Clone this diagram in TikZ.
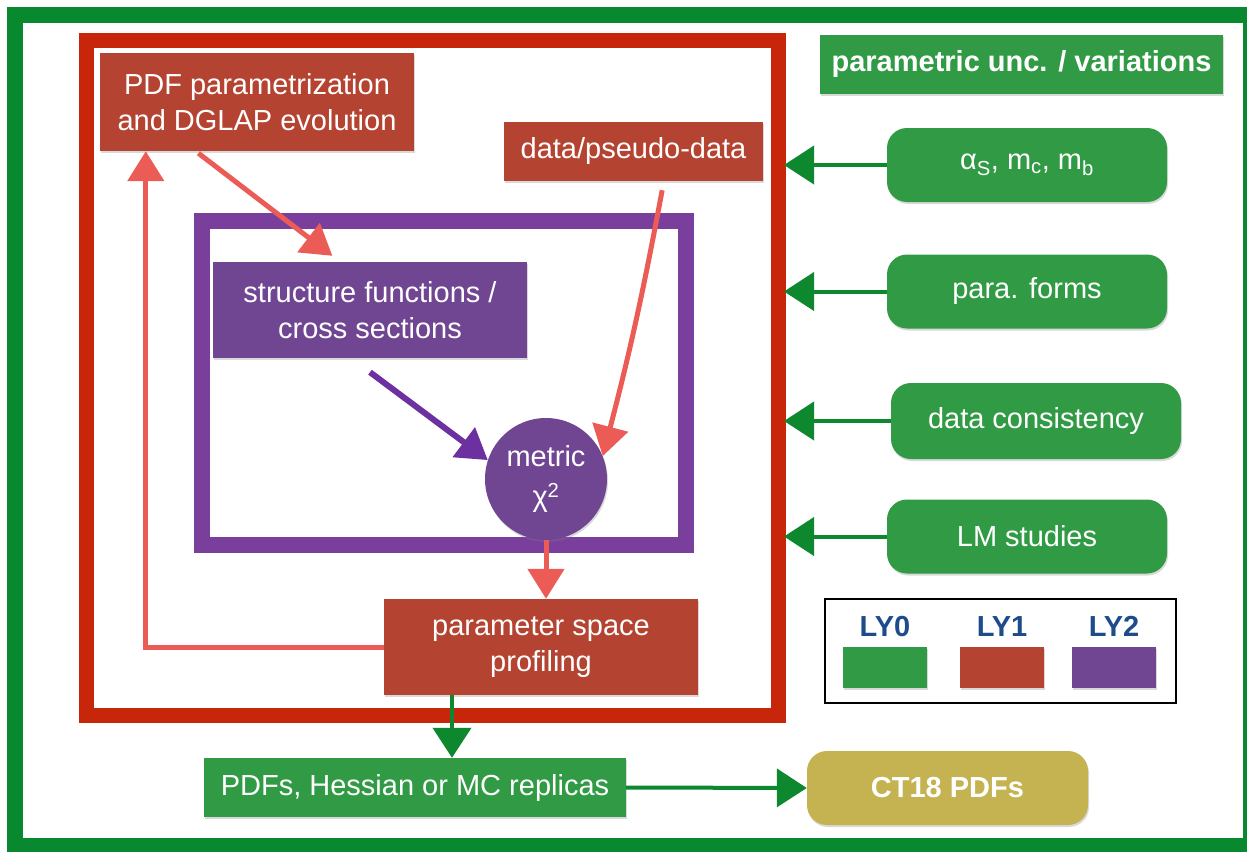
\documentclass[tikz,border=0pt]{standalone}
\usepackage{fontspec}
\setmainfont{Liberation Sans}
\usetikzlibrary{positioning,arrows.meta,shadows,calc}

\definecolor{frameGreen}{RGB}{8,137,48}
\definecolor{frameRed}{RGB}{200,38,10}
\definecolor{framePurple}{RGB}{122,62,156}
\definecolor{layZero}{RGB}{48,154,68}
\definecolor{layOne}{RGB}{180,67,49}
\definecolor{layTwo}{RGB}{112,69,146}
\definecolor{olive}{RGB}{197,178,80}
\definecolor{salmon}{RGB}{236,92,86}
\definecolor{penGreen}{RGB}{14,136,46}
\definecolor{penPurple}{RGB}{108,48,160}
\definecolor{legendBlue}{RGB}{30,76,138}

\begin{document}
\begin{tikzpicture}[x=1pt, y=-1pt
        , every node/.style={ text=white, align=center, inner sep=0pt,
                              font=\fontsize{29}{36}\selectfont }
        , box/.style={ fill=#1, minimum width=314pt, minimum height=96pt,
                       drop shadow={shadow xshift=1pt, shadow yshift=-2pt, opacity=.3} }
        , pill/.style={ box=#1, rounded corners=20pt, minimum width=280pt, minimum height=74pt }
        , redarrow/.style={ salmon, line width=5pt, -{Triangle[length=30pt,width=36pt]} }
        , greenarrow/.style={ penGreen, line width=4pt, -{Triangle[length=30pt,width=38pt]} }
        , purplearrow/.style={ penPurple, line width=6pt, -{Triangle[length=30pt,width=36pt]} }
        , legendlabel/.style={ text=legendBlue, anchor=base, font=\fontsize{29}{30}\selectfont\bfseries }
        ]

        \useasboundingbox (0,0) rectangle (1247,851);

        % the three layers
        \coordinate (rNW) at (86,41);
        \coordinate (rSE) at (778,715);
        \draw[frameGreen, line width=16pt] (15,15) rectangle (1251,846);
        \draw[frameRed, line width=15pt] (rNW) rectangle (rSE);
        \draw[framePurple, line width=16pt] (202,221) rectangle (686,545);

        % LY1 and LY2 boxes
        \node[box=layOne, minimum height=98pt] (pdf) at (257,102)
            {PDF parametrization\\and DGLAP evolution};
        \node[box=layOne, minimum width=259pt, minimum height=59pt] (data) at (633.5,151.5)
            {data/pseudo-data};
        \node[box=layTwo] (sf) at (370,310) {structure functions /\\cross sections};
        \node[circle, fill=layTwo, minimum size=122pt, font=\fontsize{29}{40}\selectfont,
              drop shadow={shadow xshift=1pt, shadow yshift=-2pt, opacity=.3}] (metric) at (546,479)
            {metric\\χ\textsuperscript{2}};
        \node[box=layOne] (prof) at (541,647) {parameter space\\profiling};

        % LY0 boxes
        \node[box=layZero, minimum width=422pt, minimum height=59pt] (pdfs) at (415,787.5)
            {PDFs, Hessian or MC replicas};
        \node[pill=olive, minimum width=281pt, font=\fontsize{29}{36}\selectfont\bfseries] (ct18) at (947.5,788)
            {CT18 PDFs};
        \node[box=layZero, minimum width=403pt, minimum height=59pt,
              font=\fontsize{29}{36}\selectfont\bfseries] (unc) at (1021.5,64.5)
            {parametric unc. / variations};

        \node[pill=layZero] (p1) at (1027,165)
            {α\textsubscript{S}, m\textsubscript{c}, m\textsubscript{b}};
        \node[pill=layZero] (p2) at (1027,291.5) {para. forms};
        \node[pill=layZero, minimum width=290pt, minimum height=76pt] (p3) at (1036,421)
            {data consistency};
        \node[pill=layZero] (p4) at (1027,536.5) {LM studies};

        \foreach \n in {1,2,3,4}
            \draw[greenarrow, shorten >=6pt] (p\n.west) -- (p\n.west -| rSE);

        % legend
        \draw[black, line width=1.5pt] (825,599) rectangle (1176,703);
        \foreach \i/\x/\c in {0/885/layZero, 1/1002/layOne, 2/1114/layTwo} {
            \node[legendlabel] (ly\i) at (\x,636) {LY\i};
            \node[box=\c, minimum width=84pt, minimum height=41pt] (sq\i) at (\x,667.5) {};
        }

        % flow inside the fit
        \draw[redarrow] ([yshift=-2pt]pdf.220) -- ([yshift=6pt]sf.128);
        \draw[redarrow] ([yshift=-9pt]data.-46) to[bend left=2] (metric.22);
        \draw[purplearrow] ([yshift=-14pt]sf.south) -- (metric.162);
        \draw[redarrow] (metric.south) -- (metric.south |- prof.north);
        \draw[redarrow] (prof.west) -| ($(pdf.south west)+(46,0)$);

        % output
        \draw[greenarrow] ([xshift=-89pt]prof.south) -- ([xshift=-89pt]prof.south |- pdfs.north);
        \draw[greenarrow] (pdfs.east) -- (ct18.west);

\end{tikzpicture}
\end{document}
